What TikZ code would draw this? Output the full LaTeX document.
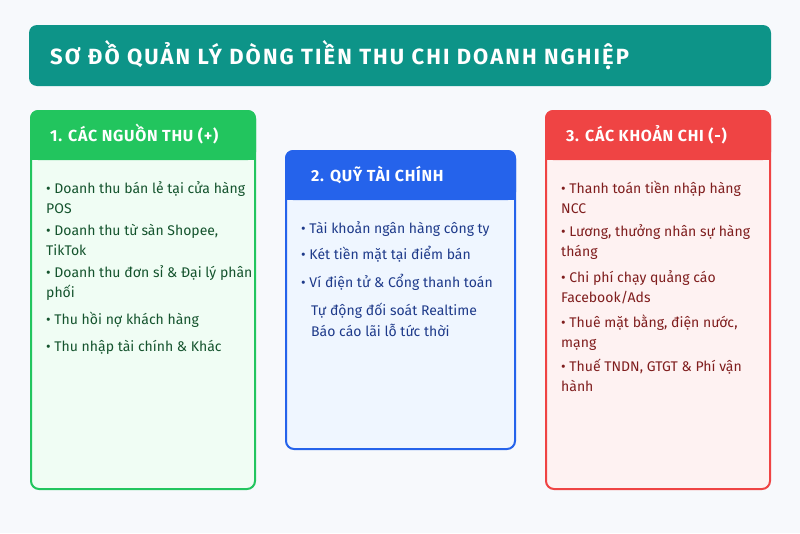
\documentclass[tikz,border=0pt]{standalone}
\usepackage{fontspec}
\setmainfont{Fira Sans}
\usetikzlibrary{positioning}

\definecolor{nen}{HTML}{F7F9FC}
\definecolor{teal}{HTML}{0D9488}
\definecolor{xanhla}{HTML}{22C55E}
\definecolor{xanhlanen}{HTML}{F0FDF4}
\definecolor{xanhlachu}{HTML}{14532D}
\definecolor{xanhduong}{HTML}{2563EB}
\definecolor{xanhduongnen}{HTML}{EFF6FF}
\definecolor{xanhduongchu}{HTML}{1E3A8A}
\definecolor{do}{HTML}{EF4444}
\definecolor{donen}{HTML}{FEF2F2}
\definecolor{dochu}{HTML}{7F1D1D}

\tikzset{
  tieude/.style={text=white, font=\fontsize{22}{26}\selectfont\bfseries\addfontfeatures{LetterSpace=9.5}, anchor=base west, inner sep=0pt},
  dauthe/.style={text=white, font=\fontsize{16}{19}\selectfont\bfseries\addfontfeatures{LetterSpace=4.5}, anchor=base west, inner sep=0pt},
  muc/.style={font=\fontsize{14}{20}\selectfont, anchor=base west, align=left, inner sep=0pt},
  khung/.style={rounded corners=8pt, line width=2pt}
}

\begin{document}
\begin{tikzpicture}[x=1pt, y=-1pt]
  \fill[nen] (0,0) rectangle (800,533);

  \fill[teal, rounded corners=8pt] (29,25) rectangle (771,86);
  \node[tieude] (title) at (50,64) {SƠ ĐỒ QUẢN LÝ DÒNG TIỀN THU CHI DOANH NGHIỆP};

  \filldraw[khung, draw=xanhla, fill=xanhlanen] (31,111) rectangle (255,489);
  \fill[xanhla, rounded corners=8pt] (30,110) rectangle (256,160);
  \fill[xanhla] (30,145) rectangle (256,160);
  \node[dauthe] (thu) at (50,141) {1. CÁC NGUỒN THU (+)};
  \node[muc, text=xanhlachu] (thuA) at (46,213) {• Doanh thu bán lẻ tại cửa hàng\\POS};
  \node[muc, text=xanhlachu] (thuB) at (46,255) {• Doanh thu từ sàn Shopee,\\TikTok};
  \node[muc, text=xanhlachu] (thuC) at (46,297) {• Doanh thu đơn sỉ \& Đại lý phân\\phối};
  \node[muc, text=xanhlachu] (thuD) at (46,324) {• Thu hồi nợ khách hàng};
  \node[muc, text=xanhlachu] (thuE) at (46,351) {• Thu nhập tài chính \& Khác};

  \filldraw[khung, draw=xanhduong, fill=xanhduongnen] (286,151) rectangle (515,449);
  \fill[xanhduong, rounded corners=8pt] (285,150) rectangle (516,200);
  \fill[xanhduong] (285,185) rectangle (516,200);
  \node[dauthe] (quy) at (311,181) {2. QUỸ TÀI CHÍNH};
  \node[muc, text=xanhduongchu] (quyA) at (301,233) {• Tài khoản ngân hàng công ty};
  \node[muc, text=xanhduongchu] (quyB) at (301,259) {• Két tiền mặt tại điểm bán};
  \node[muc, text=xanhduongchu] (quyC) at (301,287) {• Ví điện tử \& Cổng thanh toán};
  \node[muc, text=xanhduongchu] (quyD) at (311,315) {Tự động đối soát Realtime};
  \node[muc, text=xanhduongchu] (quyE) at (311,336) {Báo cáo lãi lỗ tức thời};

  \filldraw[khung, draw=do, fill=donen] (546,111) rectangle (770,489);
  \fill[do, rounded corners=8pt] (545,110) rectangle (771,160);
  \fill[do] (545,145) rectangle (771,160);
  \node[dauthe] (chi) at (566,141) {3. CÁC KHOẢN CHI (-)};
  \node[muc, text=dochu] (chiA) at (561,213) {• Thanh toán tiền nhập hàng\\NCC};
  \node[muc, text=dochu] (chiB) at (561,256) {• Lương, thưởng nhân sự hàng\\tháng};
  \node[muc, text=dochu] (chiC) at (561,302) {• Chi phí chạy quảng cáo\\Facebook/Ads};
  \node[muc, text=dochu] (chiD) at (561,347) {• Thuê mặt bằng, điện nước,\\mạng};
  \node[muc, text=dochu] (chiE) at (561,391) {• Thuế TNDN, GTGT \& Phí vận\\hành};
\end{tikzpicture}
\end{document}
